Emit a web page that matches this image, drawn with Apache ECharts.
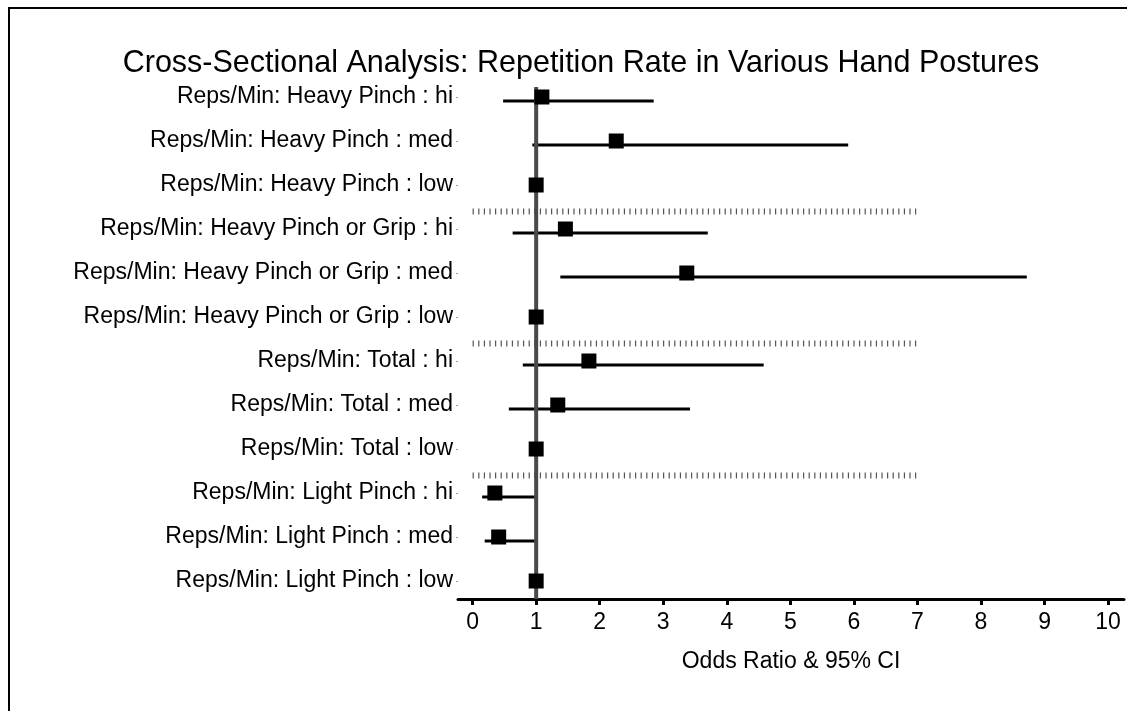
<!DOCTYPE html>
<html>
<head>
<meta charset="utf-8">
<script src="https://cdn.jsdelivr.net/npm/echarts@6/dist/echarts.min.js"></script>
<style>
html,body{margin:0;padding:0;background:#fff;}
#chart{width:1127px;height:711px;}
</style>
</head>
<body>
<div id="chart"></div>
<script>
// ---- data ----
const categories = [
  'Reps/Min: Heavy Pinch : hi',
  'Reps/Min: Heavy Pinch : med',
  'Reps/Min: Heavy Pinch : low',
  'Reps/Min: Heavy Pinch or Grip : hi',
  'Reps/Min: Heavy Pinch or Grip : med',
  'Reps/Min: Heavy Pinch or Grip : low',
  'Reps/Min: Total : hi',
  'Reps/Min: Total : med',
  'Reps/Min: Total : low',
  'Reps/Min: Light Pinch : hi',
  'Reps/Min: Light Pinch : med',
  'Reps/Min: Light Pinch : low'
];
const oddsRatio = [1.09, 2.26, 1, 1.46, 3.37, 1, 1.83, 1.34, 1, 0.35, 0.41, 1];
const ciLower   = [0.48, 0.94, null, 0.63, 1.38, null, 0.79, 0.57, null, 0.15, 0.19, null];
const ciUpper   = [2.85, 5.91, null, 3.70, 8.72, null, 4.58, 3.42, null, 0.98, 1.01, null];
const xTicks = [0, 1, 2, 3, 4, 5, 6, 7, 8, 9, 10];
const referenceValue = 1;
const separatorAfter = [2, 5, 8];   // group separators after these rows
const separatorSpan = [0, 7];       // x extent of the separators

// ---- build ----
const FONT = "'Liberation Sans', Arial, Helvetica, sans-serif";
const errData = [];
categories.forEach((c, i) => {
  if (ciLower[i] != null && ciUpper[i] != null) errData.push([ciLower[i], ciUpper[i], i]);
});
const pointData = oddsRatio.map((v, i) => [v, i]);
const sepData = separatorAfter.map(i => [separatorSpan[0], separatorSpan[1], i]);

const chart = echarts.init(document.getElementById('chart'), null, {renderer: 'canvas'});
chart.setOption({
  animation: false,
  backgroundColor: '#fff',
  title: {
    text: 'Cross-Sectional Analysis: Repetition Rate in Various Hand Postures',
    left: 576, top: 43, textAlign: 'center',
    textStyle: {fontFamily: FONT, fontSize: 30.5, fontWeight: 'normal', color: '#000'}
  },
  graphic: [{
    type: 'rect', silent: true, z: -1,
    shape: {x: 9, y: 8, width: 1300, height: 900},
    style: {fill: null, stroke: '#000', lineWidth: 2}
  }],
  grid: {left: 458, top: 75, width: 666, height: 528, containLabel: false},
  xAxis: {
    type: 'value', min: -0.23, max: 10.25, offset: -4,
    name: 'Odds Ratio & 95% CI', nameLocation: 'middle', nameGap: 51,
    nameTextStyle: {fontFamily: FONT, fontSize: 23, color: '#000'},
    axisLine: {show: true, onZero: false, lineStyle: {color: '#000', width: 3}},
    axisTick: {show: true, customValues: xTicks, length: 6, lineStyle: {color: '#000', width: 3}},
    axisLabel: {show: true, customValues: xTicks, margin: 12, fontFamily: FONT, fontSize: 23, color: '#000'},
    splitLine: {show: false}
  },
  yAxis: {
    type: 'category', data: categories, inverse: true,
    axisLine: {show: false, onZero: false},
    axisTick: {show: true, alignWithLabel: true, length: 2, lineStyle: {color: '#999', width: 1}},
    axisLabel: {margin: 5, fontFamily: FONT, fontSize: 23, color: '#000'},
    splitLine: {show: false}
  },
  series: [
    {
      type: 'custom', name: 'separators', silent: true, z: 1,
      data: sepData,
      encode: {x: [0, 1], y: 2},
      renderItem: function (params, api) {
        const idx = api.value(2);
        const a = api.coord([api.value(0), idx]);
        const b = api.coord([api.value(1), idx]);
        const half = api.size([0, 1])[1] / 2;
        const y = a[1] + half + 4.5;
        return {type: 'line', shape: {x1: a[0], y1: y, x2: b[0], y2: y},
          style: {stroke: '#555', lineWidth: 6, lineDash: [1.2, 4.4]}};
      }
    },
    {
      type: 'custom', name: 'ci', silent: true, z: 2,
      data: errData,
      encode: {x: [0, 1], y: 2},
      renderItem: function (params, api) {
        const idx = api.value(2);
        const a = api.coord([api.value(0), idx]);
        const b = api.coord([api.value(1), idx]);
        return {type: 'line', shape: {x1: a[0], y1: a[1] + 4, x2: b[0], y2: b[1] + 4},
          style: {stroke: '#000', lineWidth: 3}};
      }
    },
    {
      type: 'custom', name: 'reference', silent: true, z: 3,
      data: [[referenceValue, 0]],
      encode: {x: 0, y: 1},
      renderItem: function (params, api) {
        const p = api.coord([api.value(0), 0]);
        const bottom = params.coordSys.y + params.coordSys.height - 4;
        return {type: 'line', shape: {x1: p[0], y1: p[1] - 10, x2: p[0], y2: bottom},
          style: {stroke: '#4a4a4a', lineWidth: 4}};
      }
    },
    {
      type: 'scatter', name: 'OR', silent: true, z: 4,
      symbol: 'rect', symbolSize: 15,
      itemStyle: {color: '#000', opacity: 1},
      data: pointData
    }
  ]
});
</script>
</body>
</html>
